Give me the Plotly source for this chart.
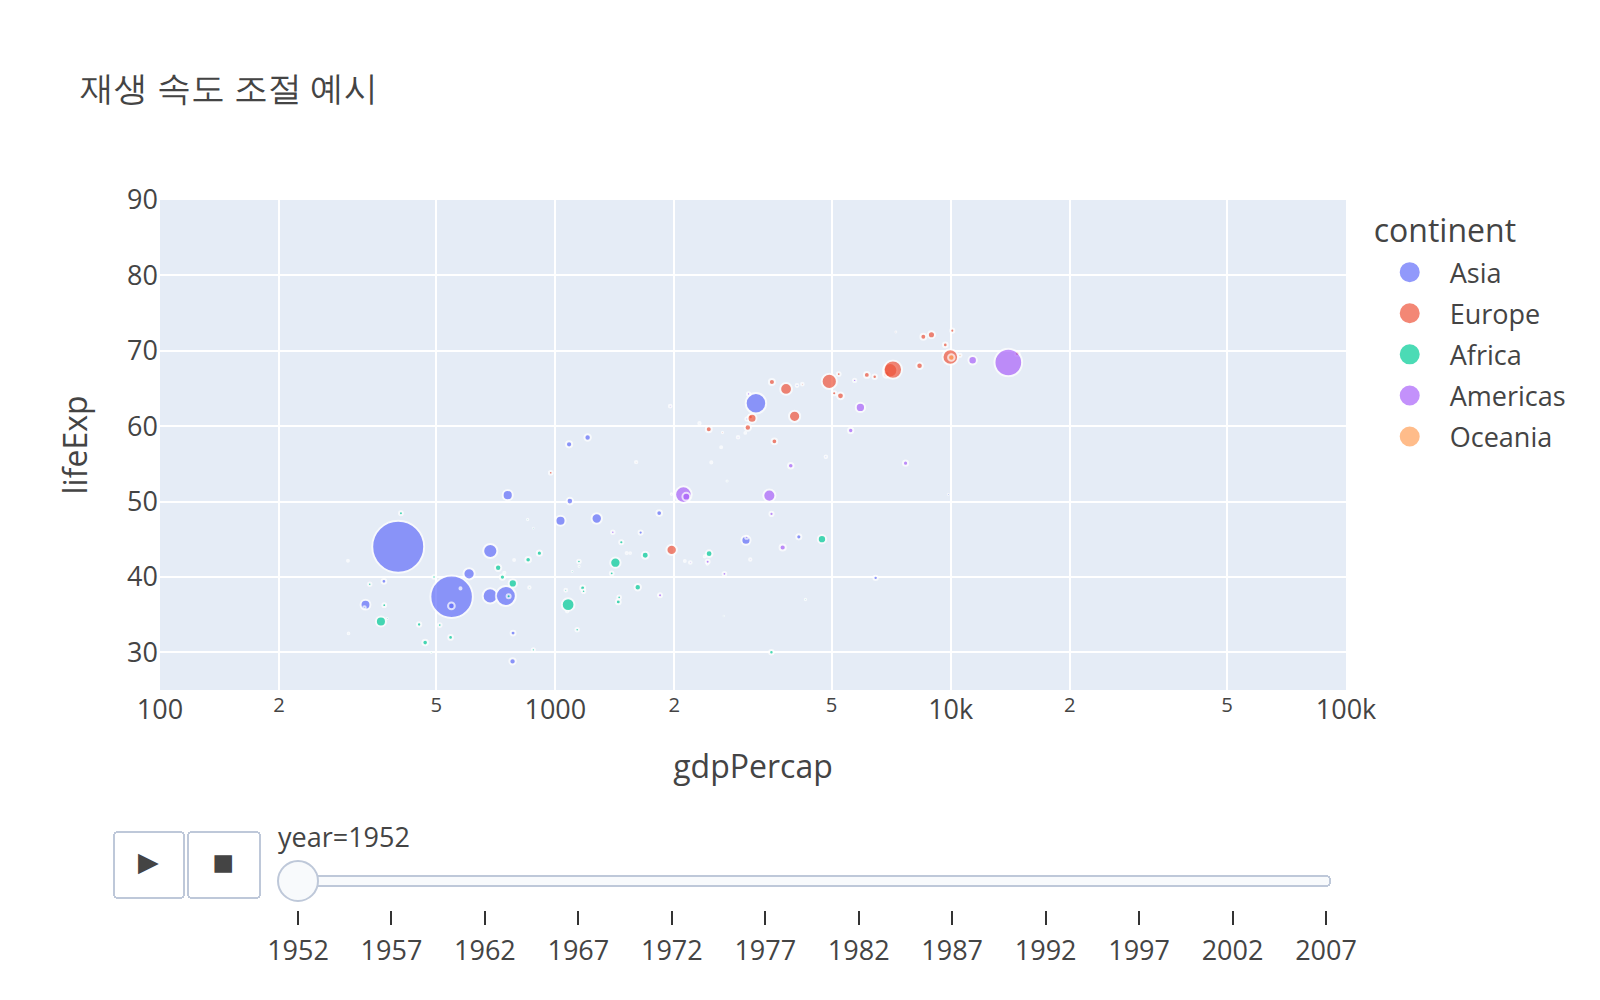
import plotly.graph_objects as go

# ---- data: gapminder, year 1952 ----
country = ["Afghanistan","Albania","Algeria","Angola","Argentina","Australia","Austria","Bahrain","Bangladesh","Belgium",
"Benin","Bolivia","Bosnia and Herzegovina","Botswana","Brazil","Bulgaria","Burkina Faso","Burundi","Cambodia","Cameroon",
"Canada","Central African Republic","Chad","Chile","China","Colombia","Comoros","Congo, Dem. Rep.","Congo, Rep.","Costa Rica",
"Cote d'Ivoire","Croatia","Cuba","Czech Republic","Denmark","Djibouti","Dominican Republic","Ecuador","Egypt","El Salvador",
"Equatorial Guinea","Eritrea","Ethiopia","Finland","France","Gabon","Gambia","Germany","Ghana","Greece",
"Guatemala","Guinea","Guinea-Bissau","Haiti","Honduras","Hong Kong, China","Hungary","Iceland","India","Indonesia",
"Iran","Iraq","Ireland","Israel","Italy","Jamaica","Japan","Jordan","Kenya","Korea, Dem. Rep.",
"Korea, Rep.","Kuwait","Lebanon","Lesotho","Liberia","Libya","Madagascar","Malawi","Malaysia","Mali",
"Mauritania","Mauritius","Mexico","Mongolia","Montenegro","Morocco","Mozambique","Myanmar","Namibia","Nepal",
"Netherlands","New Zealand","Nicaragua","Niger","Nigeria","Norway","Oman","Pakistan","Panama","Paraguay",
"Peru","Philippines","Poland","Portugal","Puerto Rico","Reunion","Romania","Rwanda","Sao Tome and Principe","Saudi Arabia",
"Senegal","Serbia","Sierra Leone","Singapore","Slovak Republic","Slovenia","Somalia","South Africa","Spain","Sri Lanka",
"Sudan","Swaziland","Sweden","Switzerland","Syria","Taiwan","Tanzania","Thailand","Togo","Trinidad and Tobago",
"Tunisia","Turkey","Uganda","United Kingdom","United States","Uruguay","Venezuela","Vietnam","West Bank and Gaza","Yemen, Rep.",
"Zambia","Zimbabwe"]

continent = ["Asia","Europe","Africa","Africa","Americas","Oceania","Europe","Asia","Asia","Europe",
"Africa","Americas","Europe","Africa","Americas","Europe","Africa","Africa","Asia","Africa",
"Americas","Africa","Africa","Americas","Asia","Americas","Africa","Africa","Africa","Americas",
"Africa","Europe","Americas","Europe","Europe","Africa","Americas","Americas","Africa","Americas",
"Africa","Africa","Africa","Europe","Europe","Africa","Africa","Europe","Africa","Europe",
"Americas","Africa","Africa","Americas","Americas","Asia","Europe","Europe","Asia","Asia",
"Asia","Asia","Europe","Asia","Europe","Americas","Asia","Asia","Africa","Asia",
"Asia","Asia","Asia","Africa","Africa","Africa","Africa","Africa","Asia","Africa",
"Africa","Africa","Americas","Asia","Europe","Africa","Africa","Asia","Africa","Asia",
"Europe","Oceania","Americas","Africa","Africa","Europe","Asia","Asia","Americas","Americas",
"Americas","Asia","Europe","Europe","Americas","Africa","Europe","Africa","Africa","Asia",
"Africa","Europe","Africa","Asia","Europe","Europe","Africa","Africa","Europe","Asia",
"Africa","Africa","Europe","Europe","Asia","Asia","Africa","Asia","Africa","Americas",
"Africa","Europe","Africa","Europe","Americas","Americas","Americas","Asia","Asia","Asia",
"Africa","Africa"]

lifeExp = [28.801,55.23,43.077,30.015,62.485,69.12,66.8,50.939,37.484,68.0,
38.223,40.414,53.82,47.622,50.917,59.6,31.975,39.031,39.417,38.523,
68.75,35.463,38.092,54.745,44.0,50.643,40.715,39.143,42.111,57.206,
40.477,61.21,59.421,66.87,70.78,34.812,45.928,48.357,41.893,45.262,
34.482,35.928,34.078,66.55,67.41,37.003,30.0,67.5,43.149,65.86,
42.023,33.609,32.5,37.579,41.912,60.96,64.03,72.49,37.373,37.468,
44.869,45.32,66.91,65.39,65.94,58.53,63.03,43.158,42.27,50.056,
47.453,55.565,55.928,42.138,38.48,42.723,36.681,36.256,48.463,33.685,
40.543,50.986,50.789,42.244,59.164,42.873,31.286,36.319,41.725,36.157,
72.13,69.39,42.314,37.444,36.324,72.67,37.578,43.436,55.191,62.649,
43.902,47.752,61.31,59.82,64.28,52.724,61.05,40.0,46.471,39.875,
37.278,57.996,30.331,60.396,64.36,65.57,32.978,45.009,64.94,57.593,
38.635,41.407,71.86,69.62,45.883,58.5,41.215,50.848,38.596,59.1,
44.6,43.585,39.978,69.18,68.44,66.071,55.088,40.412,43.16,32.548,
42.038,48.451]

pop = [8425333,1282697,9279525,4232095,17876956,8691212,6927772,120447,46886859,8730405,
1738315,2883315,2791000,442308,56602560,7274900,4469979,2445618,4693836,5009067,
14785584,1291695,2682462,6377619,556263527,12350771,153936,14100005,854885,926317,
2977019,3882229,6007797,9125183,4334000,63149,2491346,3548753,22223309,2042865,
216964,1438760,20860941,4090500,42459667,420702,284320,69145952,5581001,7733250,
3146381,2664249,580653,3201488,1517453,2125900,9504000,147962,372000000,82052000,
17272000,5441766,2952156,1620914,47666000,1426095,86459025,607914,6464046,8865488,
20947571,160000,1439529,748747,863308,1019729,4762912,2917802,6748378,3838168,
1022556,516556,30144317,800663,413834,9939217,6446316,20092996,485831,9182536,
10381988,1994794,1165790,3379468,33119096,3327728,507833,41346560,940080,1555876,
8025700,22438691,25730551,8526050,2227000,257700,16630000,2534927,60011,4005677,
2755589,6860147,2143249,1127000,3558137,1489518,2526994,14264935,28549870,7982342,
8504667,290243,7124673,4815000,3661549,8550362,8322925,21289402,1219113,662850,
3647735,22235677,5824797,50430000,157553000,2252965,5439568,26246839,1030585,4963829,
2672000,3080907]

gdpPercap = [779.4453,1601.056,2449.008,3520.610,5911.315,10039.60,6137.076,9867.085,684.2442,8343.105,
1062.752,2677.326,973.5332,851.2411,2108.944,2444.287,543.2552,339.2965,368.4693,1172.668,
11367.16,1071.311,1178.666,3939.979,400.4486,2144.115,1102.991,780.5423,2125.622,2627.009,
1388.595,3119.237,5586.539,6876.140,9692.385,2669.530,1397.717,3522.111,1418.822,3048.303,
375.6431,328.9406,362.1463,6424.519,7029.809,4293.476,485.2307,7144.114,911.2989,3530.690,
2428.238,510.1965,299.8503,1840.367,2194.926,3054.421,5263.674,7267.688,546.5657,749.6817,
3035.326,4129.766,5210.280,4086.522,4931.404,2898.531,3216.956,1546.908,853.5409,1088.277,
1030.592,108382.4,4834.804,298.8462,575.5730,2387.548,1443.012,369.1651,1831.133,452.3370,
743.1159,1967.956,3478.126,786.5669,2647.586,1688.204,468.5260,331.0,2423.780,545.8657,
8941.572,10556.58,3112.364,761.8794,1077.281,10095.42,1828.230,684.5971,2480.380,1952.309,
3758.523,1272.880,4029.330,3068.320,3081.960,2718.885,3144.613,493.3239,879.5836,6459.555,
1450.357,3581.459,879.7877,2315.138,5074.659,4215.042,1135.750,4725.296,3834.035,1083.532,
1615.991,1148.377,8527.845,14734.23,1643.485,1206.947,716.6501,757.7974,859.8087,3023.272,
1468.476,1969.101,734.7535,9979.508,13990.48,5716.767,7689.800,605.0665,1515.592,781.7176,
1147.389,406.8841]

continents = ["Asia", "Europe", "Africa", "Americas", "Oceania"]
colors = ["#636efa", "#EF553B", "#00cc96", "#ab63fa", "#FFA15A"]
years = [1952, 1957, 1962, 1967, 1972, 1977, 1982, 1987, 1992, 1997, 2002, 2007]
current_year = 1952

size_max = 26
sizeref = 2.0 * max(pop) / (size_max ** 2)


def make_traces():
    traces = []
    for cont, col in zip(continents, colors):
        idx = [i for i, c in enumerate(continent) if c == cont]
        traces.append(go.Scatter(
            x=[gdpPercap[i] for i in idx],
            y=[lifeExp[i] for i in idx],
            hovertext=[country[i] for i in idx],
            mode="markers",
            name=cont,
            legendgroup=cont,
            showlegend=True,
            marker=dict(color=col, size=[pop[i] for i in idx], sizemode="area",
                        sizeref=sizeref, symbol="circle"),
            hovertemplate="<b>%{hovertext}</b><br><br>continent=" + cont +
                          "<br>year=" + str(current_year) +
                          "<br>gdpPercap=%{x}<br>lifeExp=%{y}<br>pop=%{marker.size}<extra></extra>",
        ))
    return traces


fig = go.Figure(data=make_traces(),
                frames=[go.Frame(data=make_traces(), name=str(current_year))])

fig.update_layout(
    width=800, height=500,
    template="plotly",
    font=dict(family='"Open Sans", verdana, arial, sans-serif', color="#444", size=13.5),
    title=dict(text="재생 속도 조절 예시", font=dict(color="#444", size=17)),
    xaxis=dict(title=dict(text="gdpPercap"), type="log", range=[2, 5]),
    yaxis=dict(title=dict(text="lifeExp"), range=[25, 90]),
    legend=dict(title=dict(text="continent"), tracegroupgap=0, itemsizing="constant"),
    margin=dict(t=100),
    updatemenus=[dict(
        buttons=[
            dict(args=[None, {"frame": {"duration": 300, "redraw": False}, "mode": "immediate",
                              "fromcurrent": True, "transition": {"duration": 300, "easing": "linear"}}],
                 label="&#9654;", method="animate"),
            dict(args=[[None], {"frame": {"duration": 0, "redraw": False}, "mode": "immediate",
                                "fromcurrent": True, "transition": {"duration": 0, "easing": "linear"}}],
                 label="&#9724;", method="animate"),
        ],
        direction="left", pad={"r": 10, "t": 70}, showactive=False, type="buttons",
        x=0.1, xanchor="right", y=0, yanchor="top")],
    sliders=[dict(
        active=0, yanchor="top", xanchor="left",
        currentvalue={"prefix": "year=", "offset": 6.5},
        pad={"b": 7, "t": 61}, len=0.9, x=0.1, y=0,
        steps=[dict(args=[[str(yr)], {"frame": {"duration": 0, "redraw": False}, "mode": "immediate",
                                       "fromcurrent": True, "transition": {"duration": 0, "easing": "linear"}}],
                    label=str(yr), method="animate") for yr in years])],
)

post = ("document.body.style.margin='0';document.body.style.overflow='hidden';"
        "var gd=document.getElementById('{plot_id}');"
        "gd.style.transformOrigin='0 0';gd.style.transform='scale(2)';")

fig.write_html("out.html", post_script=post)
